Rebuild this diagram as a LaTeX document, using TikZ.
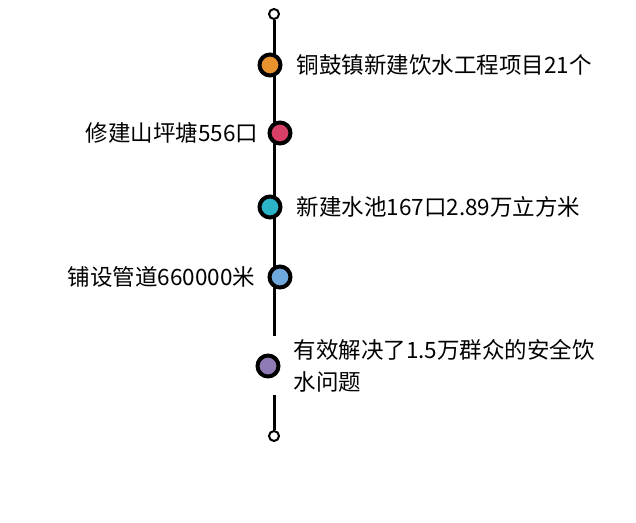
\documentclass[tikz,border=0pt]{standalone}
\usepackage{fontspec}
\setmainfont{Noto Sans CJK SC}
\usetikzlibrary{positioning}
\definecolor{dotorange}{HTML}{E8922E}
\definecolor{dotpink}{HTML}{D94068}
\definecolor{dotteal}{HTML}{2BB3C8}
\definecolor{dotblue}{HTML}{6FA8DC}
\definecolor{dotpurple}{HTML}{8E7BB5}
\tikzset{
  stage/.style={circle, draw=black, line width=4pt, minimum size=21pt, inner sep=0pt},
  endpt/.style={circle, draw=black, fill=white, line width=2pt, minimum size=10pt, inner sep=0pt},
  note/.style={font=\fontsize{22.5}{32}\selectfont, inner sep=0pt}
}
\begin{document}
\begin{tikzpicture}[x=1pt, y=-1pt]
  \useasboundingbox (0,0) rectangle (636,522);
  \coordinate (gapa) at (274,336);
  \coordinate (gapb) at (274,395);
  \node [endpt] (top) at (274,14) {};
  \node [endpt] (bot) at (274,436) {};
  \draw [line width=3pt] (top) -- (gapa);
  \draw [line width=3pt] (gapb) -- (bot);
  \node [stage, fill=dotorange] (s1) at (270,65) {};
  \node [stage, fill=dotpink] (s2) at (280,133) {};
  \node [stage, fill=dotteal] (s3) at (270,207) {};
  \node [stage, fill=dotblue] (s4) at (280,277) {};
  \node [stage, fill=dotpurple] (s5) at (268,366) {};
  \node [note, right=14pt of s1] (t1) {铜鼓镇新建饮水工程项目21个};
  \node [note, left=9pt of s2] (t2) {修建山坪塘556口};
  \node [note, right=14pt of s3] (t3) {新建水池167口2.89万立方米};
  \node [note, left=12pt of s4] (t4) {铺设管道660000米};
  \node [note, right=13pt of s5, align=left] (t5) {有效解决了1.5万群众的安全饮\\水问题};
\end{tikzpicture}
\end{document}
